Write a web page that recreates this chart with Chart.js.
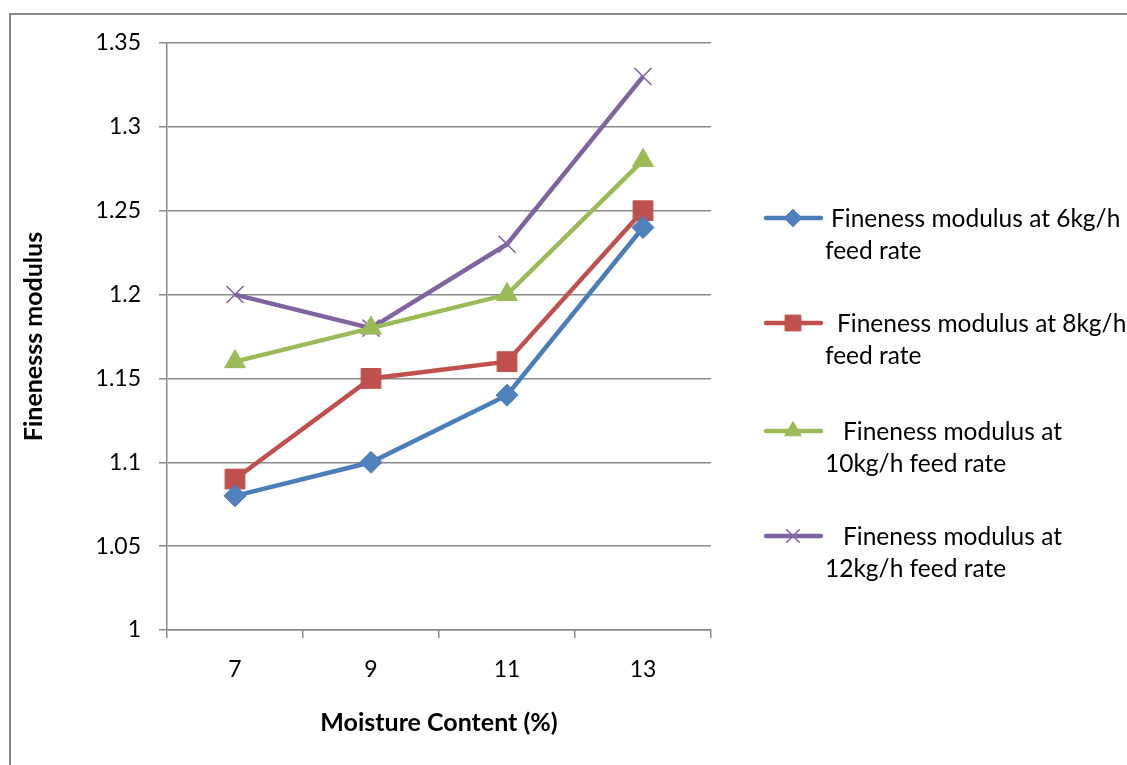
<!DOCTYPE html>
<html>
<head>
<meta charset="utf-8">
<title>Fineness modulus vs moisture content</title>
<script src="https://cdn.jsdelivr.net/npm/chart.js@4.4.1/dist/chart.umd.min.js"></script>
<style>
  html, body { margin: 0; padding: 0; background: #ffffff; }
  canvas { display: block; }
</style>
</head>
<body>
<canvas id="chart" width="1127" height="765"></canvas>
<script>
// Moisture content categories (%)
const moistureLabels = ['7', '9', '11', '13'];

// Fineness modulus per feed rate
const fm6kg  = [1.08, 1.10, 1.14, 1.24];
const fm8kg  = [1.09, 1.15, 1.16, 1.25];
const fm10kg = [1.16, 1.18, 1.20, 1.28];
const fm12kg = [1.20, 1.18, 1.23, 1.33];

// Legend text, one array of lines per series
const seriesNames = [
  ['Fineness modulus at 6kg/h', 'feed rate'],
  ['Fineness modulus at 8kg/h', 'feed rate'],
  ['Fineness modulus at', '10kg/h feed rate'],
  ['Fineness modulus at', '12kg/h feed rate']
];

const FONT = "Lato, 'Open Sans', 'DejaVu Sans', sans-serif";
const GRID = '#8a8a8a';

function series(label, data, color, style, radius, bw, fill) {
  return {
    label: label.join(' '),
    data: data,
    borderColor: color,
    backgroundColor: fill || color,
    borderWidth: 4.5,
    pointStyle: style,
    pointRadius: radius,
    pointHoverRadius: radius,
    pointBorderWidth: bw,
    pointBorderColor: color,
    pointBackgroundColor: fill || color,
    tension: 0
  };
}

// Outer frame and white background
const framePlugin = {
  id: 'frame',
  beforeDraw(chart) {
    const ctx = chart.ctx;
    ctx.save();
    ctx.fillStyle = '#ffffff';
    ctx.fillRect(0, 0, chart.width, chart.height);
    ctx.strokeStyle = '#878787';
    ctx.lineWidth = 2;
    ctx.beginPath();
    ctx.moveTo(10, chart.height);
    ctx.lineTo(10, 14);
    ctx.lineTo(chart.width, 14);
    ctx.stroke();
    ctx.restore();
  }
};

// Legend on the right with wrapped labels
const sideLegend = {
  id: 'sideLegend',
  afterDraw(chart) {
    const ctx = chart.ctx;
    const x0 = 766, x1 = 821, xm = 793;
    const rowY = [218, 323, 431, 536];
    const firstX = [831, 837, 843, 843];
    const secondX = 825;
    ctx.save();
    chart.data.datasets.forEach((ds, i) => {
      const y = rowY[i];
      ctx.strokeStyle = ds.borderColor;
      ctx.lineWidth = 4.5;
      ctx.lineCap = 'round';
      ctx.beginPath();
      ctx.moveTo(x0, y);
      ctx.lineTo(x1, y);
      ctx.stroke();
      ctx.lineCap = 'butt';
      ctx.fillStyle = ds.pointBackgroundColor;
      ctx.strokeStyle = ds.pointBorderColor;
      ctx.lineWidth = ds.pointBorderWidth;
      Chart.helpers.drawPoint(ctx, {
        pointStyle: ds.pointStyle,
        radius: ds.pointRadius * 0.8,
        borderWidth: ds.pointBorderWidth,
        rotation: 0
      }, xm, y);
      ctx.fillStyle = '#000000';
      ctx.font = '24.5px ' + FONT;
      ctx.textBaseline = 'alphabetic';
      ctx.textAlign = 'left';
      ctx.fillText(seriesNames[i][0], firstX[i], y + 9);
      ctx.fillText(seriesNames[i][1], secondX, y + 41);
    });
    ctx.restore();
  }
};

new Chart(document.getElementById('chart'), {
  type: 'line',
  data: {
    labels: moistureLabels,
    datasets: [
      series(seriesNames[0], fm6kg,  '#4A7EBB', 'rectRot',  11, 1, '#4F81BD'),
      series(seriesNames[1], fm8kg,  '#C0504D', 'rect',     14, 1),
      series(seriesNames[2], fm10kg, '#9BBB59', 'triangle', 12, 1),
      series(seriesNames[3], fm12kg, '#8064A2', 'crossRot', 12, 1.5)
    ]
  },
  options: {
    responsive: false,
    animation: false,
    events: [],
    layout: { padding: { left: 0, top: 43, right: 416, bottom: 0 } },
    plugins: {
      legend: { display: false },
      tooltip: { enabled: false }
    },
    scales: {
      x: {
        type: 'category',
        offset: true,
        afterFit(scale) { scale.height = 135; },
        grid: {
          offset: true,
          drawOnChartArea: false,
          drawTicks: true,
          tickLength: 8,
          color: GRID,
          lineWidth: 1.5
        },
        border: { display: true, color: GRID, width: 1.5 },
        ticks: {
          color: '#000000',
          font: { family: FONT, size: 23 },
          padding: 18,
          maxRotation: 0
        },
        title: {
          display: true,
          text: 'Moisture Content (%)',
          color: '#000000',
          font: { family: FONT, size: 25, weight: 'bold' },
          padding: { top: 0, bottom: 27 }
        }
      },
      y: {
        min: 1,
        max: 1.35,
        afterFit(scale) { scale.width = 167; },
        ticks: {
          stepSize: 0.05,
          color: '#000000',
          font: { family: FONT, size: 23 },
          padding: 18,
          callback: (v) => String(Number(v.toFixed(2)))
        },
        grid: {
          color: GRID,
          lineWidth: 1.5,
          drawTicks: true,
          tickLength: 8
        },
        border: { display: true, color: GRID, width: 1.5 },
        title: {
          display: true,
          text: 'Finenesss modulus',
          color: '#000000',
          font: { family: FONT, size: 25, weight: 'bold' },
          padding: { top: 19, bottom: 0 }
        }
      }
    }
  },
  plugins: [framePlugin, sideLegend]
});
</script>
</body>
</html>
